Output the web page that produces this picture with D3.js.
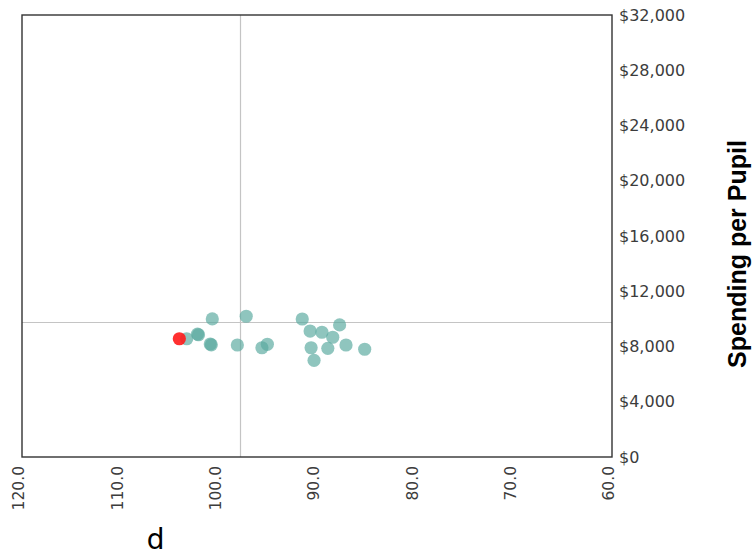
<!DOCTYPE html>
<html>
<head>
<meta charset="utf-8">
<script src="https://cdn.jsdelivr.net/npm/d3@7"></script>
<style>
  html, body { margin: 0; padding: 0; background: #fff; }
  svg { display: block; }
</style>
</head>
<body>
<svg id="chart" width="756" height="559"></svg>
<script>
// District values: p score (x) and spending per pupil (y)
const pValues = [103.25, 102.15, 102.05, 100.65, 100.85, 100.75, 98.1, 97.2, 95.6, 95.05,
                 91.5, 90.7, 89.5, 87.7, 88.4, 90.6, 88.9, 90.3, 87.05, 85.15];
const spending = [8560, 8900, 8850, 10000, 8180, 8120, 8110, 10190, 7910, 8160,
                  9990, 9120, 9030, 9560, 8670, 7910, 7870, 7000, 8110, 7800];

// Highlighted district
const highlightP = [104.0];
const highlightSpending = [8560];

// Reference lines
const refP = 97.8;
const refSpending = 9800;

// Axis ticks
const xTicks = [120, 110, 100, 90, 80, 70, 60];
const yTicks = [0, 4000, 8000, 12000, 16000, 20000, 24000, 28000, 32000];

const xTitle = "p";
const yTitle = "Spending per Pupil";

const plot = { left: 22, right: 612, top: 15, bottom: 457 };
const svg = d3.select("#chart");

const x = d3.scaleLinear().domain([120, 60]).range([plot.left, plot.right]);
const y = d3.scaleLinear().domain([0, 32000]).range([plot.bottom, plot.top]);

const tickFont = "'DejaVu Sans', Verdana, sans-serif";

// Reference lines
svg.append("line")
  .attr("x1", Math.round(x(refP)) + 0.5).attr("x2", Math.round(x(refP)) + 0.5)
  .attr("y1", plot.top).attr("y2", plot.bottom)
  .attr("stroke", "#c4c4c4").attr("stroke-width", 1.2);
svg.append("line")
  .attr("x1", plot.left).attr("x2", plot.right)
  .attr("y1", Math.round(y(refSpending)) + 0.5).attr("y2", Math.round(y(refSpending)) + 0.5)
  .attr("stroke", "#c4c4c4").attr("stroke-width", 1.2);

// Frame
svg.append("rect")
  .attr("x", plot.left).attr("y", plot.top)
  .attr("width", plot.right - plot.left).attr("height", plot.bottom - plot.top)
  .attr("fill", "none").attr("stroke", "#333").attr("stroke-width", 1.4);

// X axis (reversed, rotated labels)
const xAxis = svg.append("g")
  .attr("transform", `translate(0,${plot.bottom})`)
  .call(d3.axisBottom(x).tickValues(xTicks).tickFormat(d3.format(".1f")).tickSize(0));
xAxis.select(".domain").remove();
xAxis.selectAll("text")
  .attr("transform", "rotate(-90)")
  .attr("x", -9).attr("y", -3.5).attr("dy", "0.35em")
  .attr("text-anchor", "end")
  .attr("font-family", tickFont).attr("font-size", 15.5).attr("fill", "#3c3c3c");

// Y axis on the right
const yAxis = svg.append("g")
  .attr("transform", `translate(${plot.right},0)`)
  .call(d3.axisRight(y).tickValues(yTicks).tickFormat(d3.format("$,")).tickSize(0).tickPadding(7));
yAxis.select(".domain").remove();
yAxis.selectAll("text")
  .attr("font-family", tickFont).attr("font-size", 16).attr("fill", "#3c3c3c");

// Points
const points = pValues.map((p, i) => ({ p, s: spending[i] }));
svg.append("g").selectAll("circle")
  .data(points).join("circle")
  .attr("cx", d => x(d.p)).attr("cy", d => y(d.s)).attr("r", 6.6)
  .attr("fill", "#5aa99f").attr("fill-opacity", 0.68);

const highlight = highlightP.map((p, i) => ({ p, s: highlightSpending[i] }));
svg.append("g").selectAll("circle")
  .data(highlight).join("circle")
  .attr("cx", d => x(d.p)).attr("cy", d => y(d.s)).attr("r", 6.6)
  .attr("fill", "#ff1a1a").attr("fill-opacity", 0.9);

// Axis titles
svg.append("text")
  .attr("transform", "translate(155.5,533) rotate(180)")
  .attr("text-anchor", "middle")
  .attr("font-family", tickFont).attr("font-size", 28).attr("fill", "#000")
  .text(xTitle);

svg.append("text")
  .attr("transform", "translate(746,254) rotate(-90)")
  .attr("text-anchor", "middle")
  .attr("font-family", "'Liberation Sans', Arial, sans-serif")
  .attr("font-weight", "bold").attr("font-size", 25).attr("fill", "#000")
  .text(yTitle);
</script>
</body>
</html>
